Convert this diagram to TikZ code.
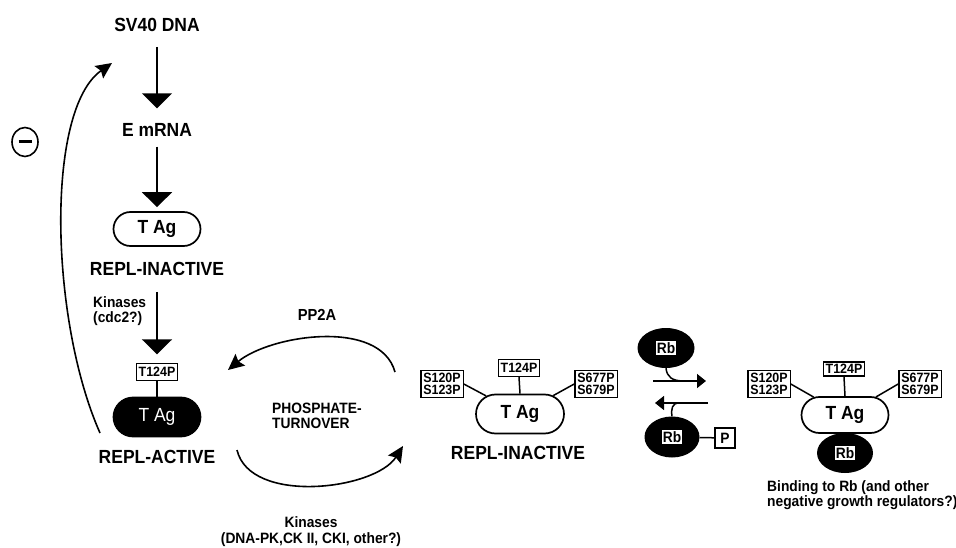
\documentclass[tikz,border=0pt]{standalone}
\usepackage{fontspec}
\setmainfont{Liberation Sans}[FakeStretch=0.92]
\usetikzlibrary{arrows.meta,shapes.geometric,shapes.misc}
\newcommand\rblabel{{\setlength{\fboxsep}{1pt}\colorbox{white}{\textcolor{black}{Rb}}}}
\begin{document}
\begin{tikzpicture}[x=1pt,y=-1pt,
  bigtxt/.style={font=\fontsize{19}{21}\selectfont\bfseries, inner sep=0pt},
  smalltxt/.style={font=\fontsize{15}{15}\selectfont\bfseries, inner sep=0pt},
  tagbox/.style={rounded rectangle, draw, line width=1.7pt, minimum width=87pt, minimum height=34pt, font=\fontsize{19}{21}\selectfont\bfseries, inner sep=0pt},
  tagblack/.style={tagbox, fill=black, text=white, font=\fontsize{19}{21}\selectfont},
  pbox/.style={draw, line width=1.3pt, font=\fontsize{13.5}{12.5}\selectfont\bfseries, inner xsep=2.5pt, inner ysep=2.5pt, align=center},
  rbnode/.style={ellipse, fill=black, minimum width=57pt, minimum height=40pt, inner sep=0pt, font=\fontsize{15}{15}\selectfont\bfseries},
  vline/.style={line width=1.6pt, -{Triangle[width=30pt,length=15pt]}},
  carrow/.style={line width=1.6pt, -{Stealth[width=15pt,length=16pt,inset=2.5pt]}},
  rbarrow/.style={line width=1.6pt, -{Triangle[width=14pt,length=9pt]}},
  link/.style={line width=1.5pt}]
\useasboundingbox (0,0) rectangle (956,548);

% left column
\node[bigtxt] (sv40) at (157,25) {SV40 DNA};
\node[bigtxt] (emrna) at (157,130) {E mRNA};
\node[tagbox] (tagI1) at (157,229) {T Ag};
\node[bigtxt] (inact1) at (157,269) {REPL-INACTIVE};
\node[smalltxt, align=left, anchor=west] (kin1) at (93,311) {Kinases\\(cdc2?)};
\node[pbox, minimum height=17pt] (t124a) at (157,372) {T124P};
\node[tagblack, minimum height=39pt] (tagA) at (157,417) {T Ag};
\node[bigtxt] (act) at (157,457) {REPL-ACTIVE};

\draw[vline, shorten <=15pt, shorten >=15pt] (sv40.south) -- (emrna.north);
\draw[vline, shorten <=10pt, shorten >=4pt] (emrna.south) -- (tagI1.north);
\draw[vline, shorten <=16pt, shorten >=8.5pt] (inact1.south) -- (t124a.north);
\draw[link] (t124a.south) -- (tagA.north);

% feedback
\node[ellipse, draw, line width=1.6pt, minimum width=26pt, minimum height=29pt, inner sep=0pt] (minus) at (25,142) {};
\draw[line width=3pt] ([xshift=-6.5pt]minus.center) -- ([xshift=6.5pt]minus.center);
\coordinate (fb1) at (100,433);
\coordinate (fb2) at (112,63);
\draw[carrow] (fb1) .. controls (50,320) and (45,110) .. (fb2);

% phosphate turnover
\node[smalltxt, font=\fontsize{16}{16}\selectfont\bfseries] (pp2a) at (317,315) {PP2A};
\node[smalltxt, align=left, anchor=west] (phos) at (272,416) {PHOSPHATE-\\TURNOVER};
\node[smalltxt, align=center, font=\fontsize{15}{16}\selectfont\bfseries] (kin2) at (311,532) {Kinases\\(DNA-PK,CK II, CKI, other?)};
\coordinate (u1) at (395,372);
\coordinate (u2) at (228,370);
\draw[carrow] (u1) .. controls (380,318) and (270,335) .. (u2);
\coordinate (l1) at (237,450);
\coordinate (l2) at (403,446);
\draw[carrow] (l1) .. controls (250,505) and (375,490) .. (l2);

% middle complex
\node[pbox] (sA) at (442,384) {S120P\\S123P};
\node[pbox, minimum height=17pt] (tB) at (519,368) {T124P};
\node[pbox] (sC) at (596,384) {S677P\\S679P};
\node[tagbox, minimum width=88pt, minimum height=39pt] (tagI2) at (520,414) {T Ag};
\node[bigtxt] (inact2) at (518,453) {REPL-INACTIVE};
\draw[link] (sA.east) -- (tagI2);
\draw[link] (tB.south) -- (tagI2.north);
\draw[link] (sC.west) -- (tagI2);

% Rb exchange
\node[rbnode] (rbT) at (666,348) {\rblabel};
\node[rbnode, minimum width=55pt, minimum height=41pt] (rbB) at (672,437) {\rblabel};
\node[draw, line width=1.3pt, minimum size=20pt, inner sep=0pt, font=\fontsize{15}{15}\selectfont\bfseries] (pbx) at (725,438) {P};
\draw[link] (rbB) -- (pbx);
\coordinate (f1) at (653,381);
\coordinate (f2) at (706,381);
\coordinate (fj) at (684,381);
\draw[rbarrow] (f1) -- (f2);
\draw[link] (rbT.south) .. controls (667,377) and (672,381) .. (fj);
\coordinate (b1) at (708,403);
\coordinate (b2) at (655,403);
\coordinate (bj) at (679,403);
\draw[rbarrow] (b1) -- (b2);
\draw[link] (bj) .. controls (672,403) and (671,409) .. (rbB.north);

% right complex
\node[pbox] (sA2) at (769,384) {S120P\\S123P};
\node[pbox, minimum height=14pt, inner ysep=1.5pt] (tB2) at (844,369) {T124P};
\node[pbox] (sC2) at (920,384) {S677P\\S679P};
\node[tagbox, minimum height=36pt] (tagR) at (845,415) {T Ag};
\node[rbnode, minimum width=56pt, minimum height=40pt] (rbR) at (845,453) {\rblabel};
\draw[link] (sA2.east) -- (tagR);
\draw[link] (tB2.south) -- (tagR.north);
\draw[link] (sC2.west) -- (tagR);
\node[smalltxt, align=left, anchor=west] (bind) at (767,495) {Binding to Rb (and other\\negative growth regulators?)};
\end{tikzpicture}
\end{document}
